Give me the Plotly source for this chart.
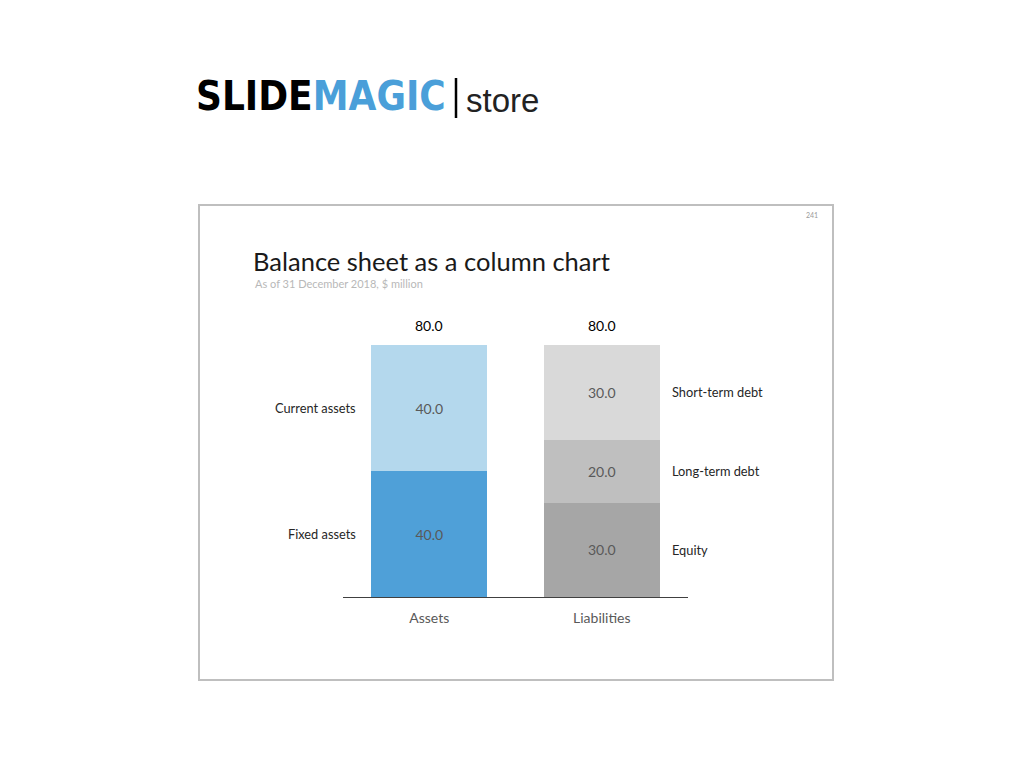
import plotly.graph_objects as go

categories = ["Assets", "Liabilities"]
segment_names = ["Fixed assets", "Current assets", "Equity", "Long-term debt", "Short-term debt"]
segment_cats = ["Assets", "Assets", "Liabilities", "Liabilities", "Liabilities"]
segment_values = [40.0, 40.0, 30.0, 20.0, 30.0]
segment_colors = ["#4fa0d8", "#b4d8ed", "#a6a6a6", "#bfbfbf", "#d9d9d9"]
label_side = ["left", "left", "right", "right", "right"]
totals = [80.0, 80.0]

OFF = 8  # page body margin
W, H = 1024 - 2 * OFF, 771 - 2 * OFF
FONT = "Lato"

fig = go.Figure()
for name, cat, val, col in zip(segment_names, segment_cats, segment_values, segment_colors):
    fig.add_trace(go.Bar(
        x=[cat], y=[val], name=name, marker=dict(color=col, line=dict(width=0)),
        width=0.67, text=[f"{val:.1f}"], textposition="inside", insidetextanchor="middle",
        textfont=dict(family=FONT, size=14, color="#595959"), showlegend=False,
        hoverinfo="skip"))

annotations = []
# totals
for cat, tot in zip(categories, totals):
    annotations.append(dict(x=cat, y=tot, xref="x", yref="y", text=f"{tot:.1f}",
                            showarrow=False, yanchor="bottom", yshift=9,
                            font=dict(family=FONT, size=14, color="#000000")))
# side labels
cum = {c: 0.0 for c in categories}
for name, cat, val, side in zip(segment_names, segment_cats, segment_values, label_side):
    mid = cum[cat] + val / 2
    cum[cat] += val
    if side == "left":
        annotations.append(dict(x=cat, y=mid, xref="x", yref="y", text=name, showarrow=False,
                                xanchor="right", xshift=-71,
                                font=dict(family=FONT, size=12.8, color="#262626")))
    else:
        annotations.append(dict(x=cat, y=mid, xref="x", yref="y", text=name, showarrow=False,
                                xanchor="left", xshift=68,
                                font=dict(family=FONT, size=12.8, color="#262626")))

def px(x):
    return (x - OFF) / W
def py(y):
    return 1 - (y - OFF) / H

# title etc.
annotations += [
    dict(x=px(251), y=py(261), xref="paper", yref="paper", text="Balance sheet as a column chart",
         showarrow=False, xanchor="left", yanchor="middle",
         font=dict(family=FONT, size=25.5, color="#1a1a1a")),
    dict(x=px(253), y=py(283), xref="paper", yref="paper", text="As of 31 December 2018, $ million",
         showarrow=False, xanchor="left", yanchor="middle",
         font=dict(family=FONT, size=11, color="#b8b8b8")),
    dict(x=px(820), y=py(215), xref="paper", yref="paper", text="241",
         showarrow=False, xanchor="right", yanchor="middle",
         font=dict(family=FONT, size=7, color="#9a9a9a")),
    dict(x=px(194), y=py(96), xref="paper", yref="paper",
         text="<b>SLIDE<span style='color:#4a9fd9'>MAGIC</span></b>",
         showarrow=False, xanchor="left", yanchor="middle",
         font=dict(family="DejaVu Sans Condensed", size=40, color="#000000")),
    dict(x=px(464), y=py(101), xref="paper", yref="paper", text="store",
         showarrow=False, xanchor="left", yanchor="middle",
         font=dict(family="Liberation Sans", size=33, color="#222222")),
]

shapes = [
    dict(type="rect", xref="paper", yref="paper", x0=px(199), x1=px(833), y0=py(680), y1=py(205),
         line=dict(color="#bfbfbf", width=2), fillcolor="rgba(0,0,0,0)", layer="below"),
    dict(type="line", xref="paper", yref="paper", x0=px(456), x1=px(456), y0=py(78), y1=py(118),
         line=dict(color="#000000", width=2.5)),
]

y_top_px = 300
y_max = 80 * (597 - y_top_px) / (597 - 345)

fig.update_layout(
    width=W, height=H, autosize=False,
    margin=dict(l=0, r=0, t=0, b=0),
    paper_bgcolor="white", plot_bgcolor="white",
    barmode="stack", bargap=0.33,
    xaxis=dict(domain=[px(343), px(688)], range=[-0.5, 1.5], showline=True,
               linecolor="#404040", linewidth=1.3, showgrid=False, ticks="",
               tickfont=dict(family=FONT, size=14, color="#595959"), fixedrange=True,
               ticklabelstandoff=8),
    yaxis=dict(domain=[py(597), py(y_top_px)], range=[0, y_max], visible=False,
               showgrid=False, zeroline=False, fixedrange=True),
    annotations=annotations, shapes=shapes,
    uniformtext=dict(mode="show", minsize=10),
)

fig.write_html("out.html")
